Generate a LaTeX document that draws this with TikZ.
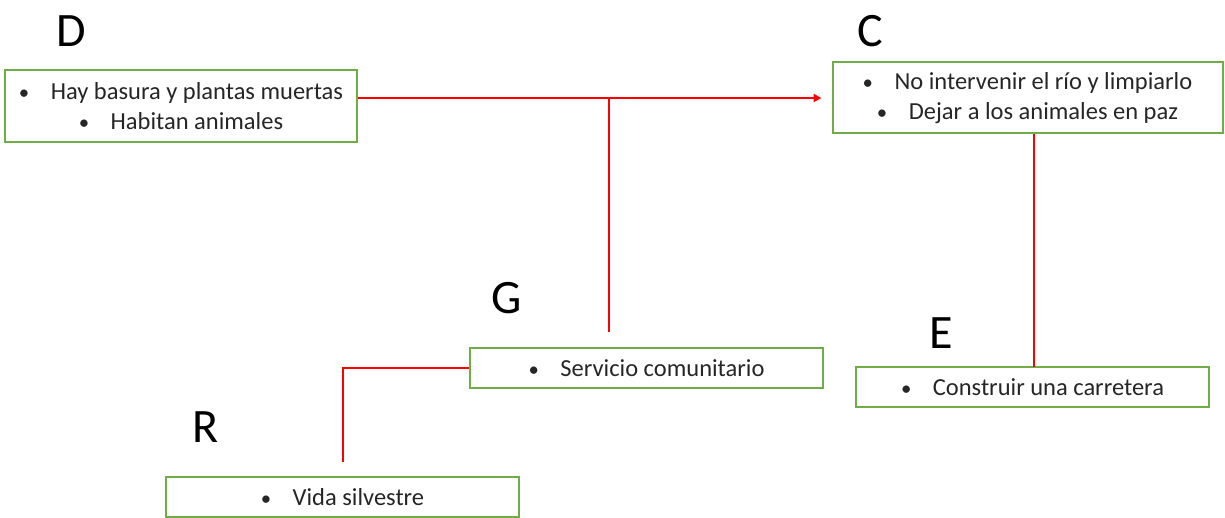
\documentclass[tikz,border=0pt]{standalone}
\usepackage{fontspec}
\setmainfont{Carlito}
\usetikzlibrary{arrows.meta}
\definecolor{boxgreen}{HTML}{70AD47}
\definecolor{txt}{HTML}{262626}
\newcommand{\bul}{\makebox[1.3em][l]{\scalebox{0.85}{\textbullet}}}
\tikzset{
  card/.style={draw=boxgreen, line width=2pt, fill=white, inner sep=0pt,
    font=\fontsize{24.5}{30.5}\selectfont, text=txt, align=center},
  tag/.style={font=\fontsize{48}{48}\selectfont, text=black, inner sep=0pt},
  link/.style={draw=red, line width=2pt},
}
\begin{document}
\begin{tikzpicture}[x=1pt, y=-1pt]
  \useasboundingbox (0,0) rectangle (1225,518);

  % letters
  \node[tag] (Dl) at (71,31) {D};
  \node[tag] (Cl) at (870,31) {C};
  \node[tag] (Gl) at (507,298) {G};
  \node[tag] (El) at (941,333) {E};
  \node[tag] (Rl) at (206,427) {R};

  % boxes
  \node[card, minimum width=352pt, minimum height=72pt] (d) at (181,106)
    {\bul Hay basura y plantas muertas\\ \bul Habitan animales};
  \node[card, minimum width=390pt, minimum height=71pt] (c) at (1027.5,98)
    {\bul No intervenir el río y limpiarlo\\ \bul Dejar a los animales en paz};
  \node[card, minimum width=353pt, minimum height=40pt] (g) at (646.5,368)
    {\bul Servicio comunitario};
  \node[card, minimum width=353pt, minimum height=40pt] (e) at (1032.5,387)
    {\bul Construir una carretera};
  \node[card, minimum width=353pt, minimum height=40pt] (r) at (342.5,497)
    {\bul Vida silvestre};

  % connectors
  \coordinate (j) at (609,98);
  \coordinate (gk) at (609,332);
  \coordinate (rk) at (343,462);
  \coordinate (ce) at (1034,0);
  \coordinate (ek) at (1034,367);

  \draw[link, -{Triangle[length=8pt, width=8pt]}] (d.east |- c.west) -- ([xshift=-10pt]c.west);
  \draw[link] (j) -- (gk);
  \draw[link] (g.west) -| (rk);
  \draw[link] (c.south -| ce) -- (ek);
\end{tikzpicture}
\end{document}
